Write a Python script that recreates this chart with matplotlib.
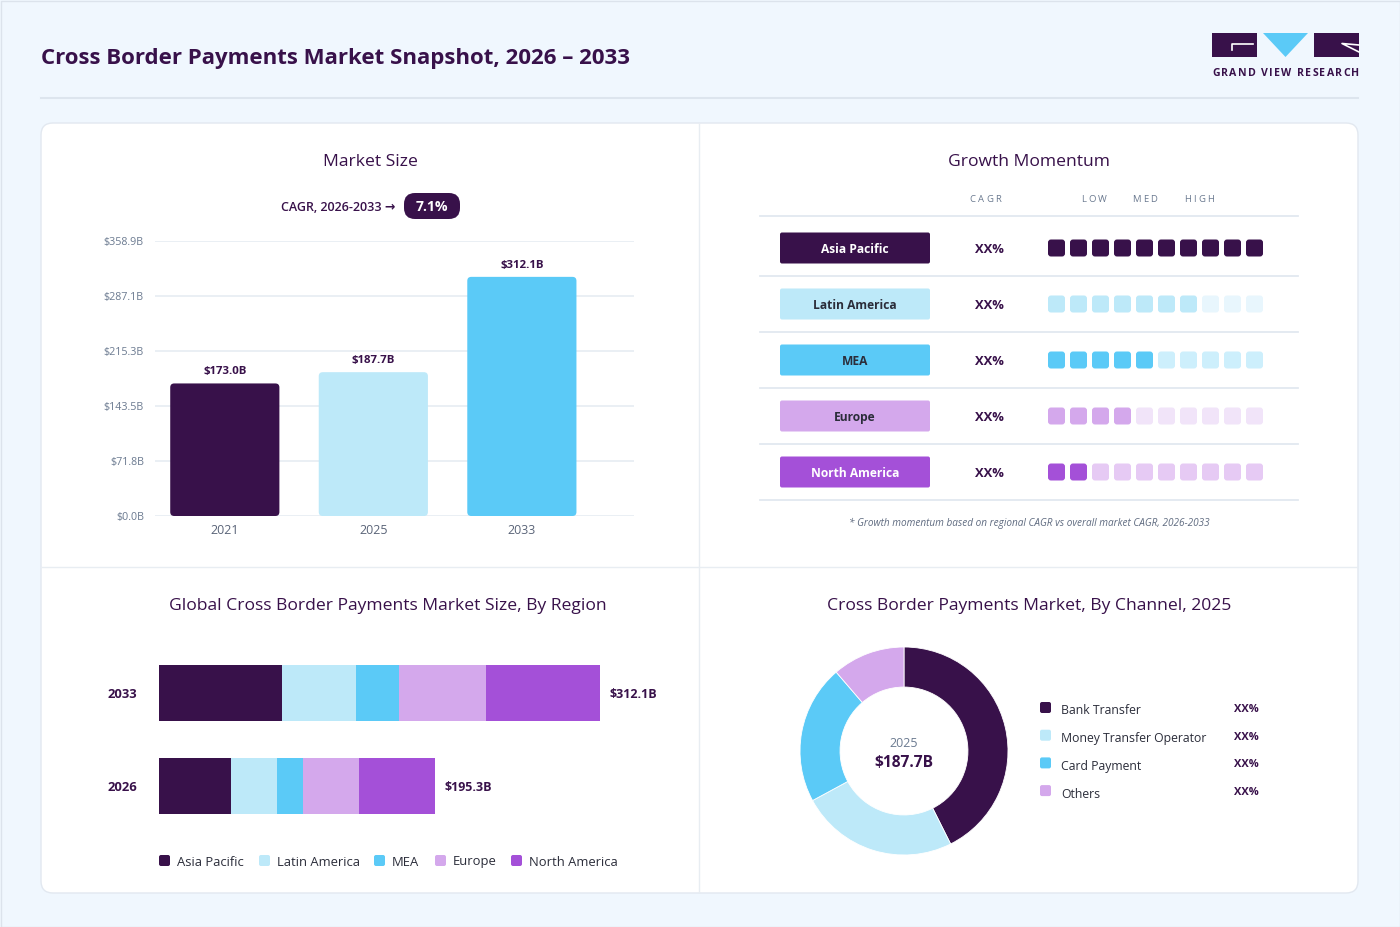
import matplotlib
matplotlib.use("Agg")
import matplotlib.pyplot as plt
from matplotlib.patches import FancyBboxPatch, Rectangle, Polygon
import numpy as np

plt.rcParams['font.family'] = ['Open Sans', 'DejaVu Sans']

# ---------------- data ----------------
title = "Cross Border Payments Market Snapshot, 2026 – 2033"
ms_years = ["2021", "2025", "2033"]
ms_values = [173.0, 187.7, 312.1]
ms_ticks = [0.0, 71.8, 143.5, 215.3, 287.1, 358.9]
cagr_label = "CAGR, 2026-2033 →"
cagr_value = "7.1%"

gm_regions = ["Asia Pacific", "Latin America", "MEA", "Europe", "North America"]
gm_cagr = ["XX%", "XX%", "XX%", "XX%", "XX%"]
gm_filled = [10, 7, 5, 4, 2]
gm_total = 10
gm_note = "* Growth momentum based on regional CAGR vs overall market CAGR, 2026-2033"

reg_years = ["2026", "2033"]
reg_names = ["Asia Pacific", "Latin America", "MEA", "Europe", "North America"]
reg_2026 = [51.3, 32.1, 18.5, 39.9, 53.5]
reg_2033 = [87.0, 52.4, 30.4, 61.6, 80.7]
reg_totals = ["$195.3B", "$312.1B"]

ch_names = ["Bank Transfer", "Money Transfer Operator", "Card Payment", "Others"]
ch_shares = [42.6, 24.5, 21.6, 11.3]
ch_labels = ["XX%", "XX%", "XX%", "XX%"]
ch_year = "2025"
ch_total = "$187.7B"

# ---------------- styles ----------------
BG = "#F0F7FE"
DARK = "#38114A"
LB = "#BDE9F9"
MB = "#5BCAF7"
LAV = "#D4A8EC"
PUR = "#A450D8"
GRID = "#E6ECF2"
SLATE = "#6B7A90"
TXT = "#2B2D3A"

reg_colors = [DARK, LB, MB, LAV, PUR]
ms_colors = [DARK, LB, MB]
gm_on = [DARK, LB, MB, LAV, PUR]
gm_off = [DARK, "#E8F6FD", "#CDEFFC", "#F1E4F9", "#E6CAF4"]
gm_txt = ["white", TXT, TXT, TXT, "white"]
ch_colors = [DARK, LB, MB, LAV]

W, H = 1400, 927
fig = plt.figure(figsize=(W / 100, H / 100), dpi=100)
fig.patch.set_facecolor(BG)


def px(v):
    return v * 72 / 100


def ax_px(x0, y0, x1, y1):
    return fig.add_axes([x0 / W, 1 - y1 / H, (x1 - x0) / W, (y1 - y0) / H])


bg = fig.add_axes([0, 0, 1, 1])
bg.set_xlim(0, W)
bg.set_ylim(H, 0)
bg.axis('off')
bg.set_zorder(-5)

# outer frame
bg.add_patch(Rectangle((0.5, 0.5), W - 1, H - 1, fill=False, ec="#DCE3EC", lw=1))

# title and rule
bg.text(41, 58, title, fontsize=px(22.3), fontweight='bold', color=DARK,
        va='center', ha='left')
bg.plot([41, 1358], [98, 98], color="#DDE5EE", lw=1.5)

# logo
bg.add_patch(Rectangle((1212, 33), 45, 24, color=DARK, lw=0))
bg.plot([1232, 1232, 1253], [50, 44, 44], color="white", lw=1.2)
bg.add_patch(Polygon([(1263, 33), (1308, 33), (1285.5, 57)], closed=True, color=MB, lw=0))
bg.add_patch(Rectangle((1314, 33), 45, 24, color=DARK, lw=0))
bg.plot([1359, 1342, 1359], [45, 43.5, 52], color="white", lw=1.2)


def spaced(ax, x, y, s, size, spacing, color, weight='normal', ha='left'):
    r = fig.canvas.get_renderer()
    widths = []
    for ch in s:
        t = ax.text(0, 0, ch if ch != ' ' else 'i', fontsize=size, fontweight=weight)
        bb = t.get_window_extent(renderer=r)
        widths.append(bb.width * (0.9 if ch == ' ' else 1.0))
        t.remove()
    inv = ax.transData.inverted()
    x0d = inv.transform((0, 0))[0]
    widths = [inv.transform((w, 0))[0] - x0d for w in widths]
    sp = inv.transform((spacing, 0))[0] - x0d
    total = sum(widths) + sp * (len(s) - 1)
    if ha == 'center':
        x = x - total / 2
    elif ha == 'right':
        x = x - total
    cx = x
    for ch, w in zip(s, widths):
        if ch != ' ':
            ax.text(cx, y, ch, fontsize=size, fontweight=weight, color=color,
                    va='center', ha='left', clip_on=False)
        cx += w + sp


spaced(bg, 1212, 73.5, "GRAND VIEW RESEARCH", px(10.5), 1.3, DARK, weight='bold')

# card
bg.add_patch(FancyBboxPatch((41, 123), 1317, 770, boxstyle="round,pad=0,rounding_size=12",
                            fc="white", ec="#E2E8F0", lw=1))
bg.plot([699, 699], [124, 892], color="#E8EDF2", lw=1)
bg.plot([42, 1357], [567, 567], color="#E8EDF2", lw=1)

# ---------------- Market size ----------------
bg.text(370, 162, "Market Size", fontsize=px(17.5), color=DARK, ha='center', va='center')
bg.text(395, 207, cagr_label, fontsize=px(12.5), fontweight='semibold', color=DARK,
        ha='right', va='center')
bg.add_patch(FancyBboxPatch((404, 193), 56, 26, boxstyle="round,pad=0,rounding_size=11",
                            fc=DARK, ec='none'))
bg.text(432, 207, cagr_value, fontsize=px(14), fontweight='bold', color='white',
        ha='center', va='center')

ax1 = ax_px(155, 241, 634, 516)
ax1.set_facecolor('none')
ax1.set_ylim(0, 358.9)
ax1.set_xlim(-0.47, 2.755)
xs = np.arange(len(ms_years))
bars = ax1.bar(xs, ms_values, width=0.735, color=ms_colors)
xpp = 3.225 / 479
ypp = 358.9 / 275
for b, c in zip(bars, ms_colors):
    x0, y0 = b.get_x(), b.get_y()
    w, h = b.get_width(), b.get_height()
    b.set_visible(False)
    rs = 4 * xpp
    ax1.add_patch(FancyBboxPatch((x0, y0), w, h,
                                 boxstyle=f"round,pad=0,rounding_size={rs}",
                                 mutation_aspect=ypp / xpp, fc=c, ec='none', zorder=3))
for x, v in zip(xs, ms_values):
    ax1.annotate(f"${v:.1f}B", (x, v), xytext=(0, 6), textcoords='offset pixels',
                 ha='center', va='bottom', fontsize=px(11.5), fontweight='bold', color=DARK)
ax1.set_yticks(ms_ticks)
ax1.set_yticklabels([f"${t:.1f}B" for t in ms_ticks])
ax1.set_xticks(xs)
ax1.set_xticklabels(ms_years)
ax1.tick_params(axis='y', length=0, pad=8, labelsize=px(10.8), labelcolor=SLATE)
ax1.tick_params(axis='x', length=0, pad=6, labelsize=px(12.5), labelcolor="#5A6478")
ax1.grid(axis='y', color=GRID, lw=1.2)
ax1.set_axisbelow(True)
for s in ax1.spines.values():
    s.set_visible(False)

# ---------------- Growth momentum ----------------
bg.text(1029, 162, "Growth Momentum", fontsize=px(17.5), color=DARK, ha='center', va='center')
ax2 = ax_px(760, 216, 1298, 500)
ax2.set_xlim((760 - 1056.5) / 22, (1298 - 1056.5) / 22)
ax2.set_ylim(4.5, (216 - 248) / 56)
ax2.axis('off')
asp = (1 / 56) / (1 / 22)
sq_w = 17 / 22
sq_h = 17 / 56
for yv in [(216 - 248) / 56, 0.5, 1.5, 2.5, 3.5, 4.5]:
    ax2.plot([ax2.get_xlim()[0], ax2.get_xlim()[1]], [yv, yv], color="#E2E8F0", lw=1.3,
             clip_on=False)
spaced(ax2, -3.23, -0.86, "CAGR", px(9.5), 2.2, SLATE, ha='center')
spaced(ax2, 1.7, -0.86, "LOW", px(9.5), 2.2, SLATE, ha='center')
spaced(ax2, 4.0, -0.86, "MED", px(9.5), 2.2, SLATE, ha='center')
spaced(ax2, 6.5, -0.86, "HIGH", px(9.5), 2.2, SLATE, ha='center')
pl0 = (780 - 1056.5) / 22
pl1 = (930 - 1056.5) / 22
ph = 31 / 56
for i, (name, cg, nf) in enumerate(zip(gm_regions, gm_cagr, gm_filled)):
    ax2.add_patch(FancyBboxPatch((pl0, i - ph / 2), pl1 - pl0, ph,
                                 boxstyle=f"round,pad=0,rounding_size={2 / 22}",
                                 mutation_aspect=asp, fc=gm_on[i], ec='none', clip_on=False))
    ax2.text((pl0 + pl1) / 2, i + 0.02, name, fontsize=px(12), fontweight='bold',
             color=gm_txt[i], ha='center', va='center')
    ax2.text(-3.05, i + 0.02, cg, fontsize=px(13), fontweight='bold', color=DARK,
             ha='center', va='center')
    for j in range(gm_total):
        c = gm_on[i] if j < nf else gm_off[i]
        ax2.add_patch(FancyBboxPatch((j - sq_w / 2, i - sq_h / 2), sq_w, sq_h,
                                     boxstyle=f"round,pad=0,rounding_size={3 / 22}",
                                     mutation_aspect=asp, fc=c, ec='none'))
bg.text(1029, 523, gm_note, fontsize=px(10), style='italic', color="#5F6B80",
        ha='center', va='center')

# ---------------- Region stacked bars ----------------
bg.text(388, 606, "Global Cross Border Payments Market Size, By Region", fontsize=px(17.5),
        color=DARK, ha='center', va='center')
ax3 = ax_px(159, 640, 659, 840)
ax3.set_xlim(0, 500 / 1.412)
ax3.set_ylim(-0.58, 1.57)
ax3.axis('off')
data = np.array([reg_2026, reg_2033])
left = np.zeros(2)
for k in range(len(reg_names)):
    ax3.barh([0, 1], data[:, k], left=left, height=0.6, color=reg_colors[k], lw=0)
    left += data[:, k]
for i, (yr, tot) in enumerate(zip(reg_years, reg_totals)):
    ax3.annotate(tot, (left[i], i), xytext=(10, -1), textcoords='offset pixels',
                 ha='left', va='center', fontsize=px(12.5), fontweight='bold', color=DARK)
    ax3.annotate(yr, (0, i), xytext=(-51, -1), textcoords='offset pixels',
                 ha='left', va='center', fontsize=px(13), fontweight='bold', color=DARK,
                 annotation_clip=False)
leg_x = [159, 259, 374, 435, 511]
for k, name in enumerate(reg_names):
    bg.add_patch(FancyBboxPatch((leg_x[k], 855), 11, 11, boxstyle="round,pad=0,rounding_size=2",
                                fc=reg_colors[k], ec='none'))
    bg.text(leg_x[k] + 18, 862, name, fontsize=px(13), color=TXT, ha='left', va='center')

# ---------------- Channel donut ----------------
bg.text(1029, 606, "Cross Border Payments Market, By Channel, 2025", fontsize=px(17.5),
        color=DARK, ha='center', va='center')
ax4 = ax_px(800, 647, 1008, 855)
ax4.pie(ch_shares, colors=ch_colors, startangle=90, counterclock=False,
        radius=1.0, wedgeprops=dict(width=0.385, edgecolor='white', linewidth=0.6))
ax4.set_xlim(-1, 1)
ax4.set_ylim(-1, 1)
ax4.set_aspect('equal')
ax4.text(0, 0.07, ch_year, fontsize=px(12.5), color=SLATE, ha='center', va='center')
ax4.text(0, -0.12, ch_total, fontsize=px(15.5), fontweight='bold', color=DARK,
         ha='center', va='center')
for k, (name, lab) in enumerate(zip(ch_names, ch_labels)):
    y = 708 + 27.7 * k
    bg.add_patch(FancyBboxPatch((1040, y - 6), 11, 11, boxstyle="round,pad=0,rounding_size=2",
                                fc=ch_colors[k], ec='none'))
    bg.text(1061, y + 3, name, fontsize=px(12.2), color=TXT, ha='left', va='center')
    bg.text(1259, y + 1.5, lab, fontsize=px(11), fontweight='bold', color=DARK,
            ha='right', va='center')

fig.savefig("out.png", dpi=100, facecolor=BG)
